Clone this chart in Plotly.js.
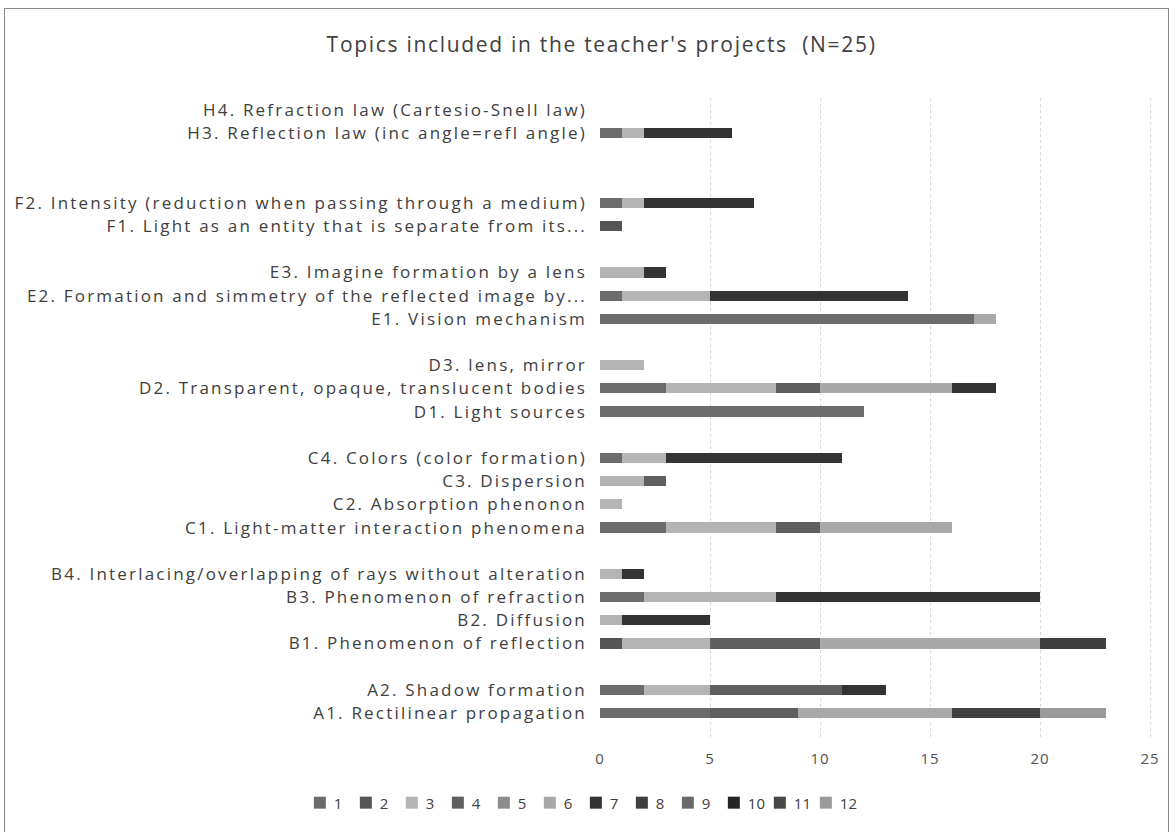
<!DOCTYPE html>
<html>
<head>
<meta charset="utf-8">
<script src="https://cdn.plot.ly/plotly-3.0.1.min.js"></script>
<style>
  html, body { margin: 0; padding: 0; background: #fff; }
  #wrap { position: relative; width: 1175px; height: 832px; overflow: hidden; }
  #frame { position: absolute; left: 4px; top: 8px; width: 1165px; height: 840px; border: 1px solid #8a8a8a; box-sizing: border-box; pointer-events: none; }
  #chart { position: absolute; left: 0; top: 0; width: 1175px; height: 832px; }
  #chart .ytick text { letter-spacing: 2.2px; }
  #chart .gtitle { letter-spacing: 1.7px; }
  #chart .xtick text { letter-spacing: 1px; }
  #chart .legend .scrollbox { clip-path: none !important; }
  #chart .legendtext { transform: translateX(-6px); }
</style>
</head>
<body>
<div id="wrap">
  <div id="chart"></div>
  <div id="frame"></div>
</div>
<script>
// Categories, bottom to top (blank rows are group separators)
const categories = [
  "A1. Rectilinear propagation",
  "A2. Shadow formation",
  "gap1",
  "B1. Phenomenon of reflection",
  "B2. Diffusion",
  "B3. Phenomenon of refraction",
  "B4. Interlacing/overlapping of rays without alteration",
  "gap2",
  "C1. Light-matter interaction phenomena",
  "C2. Absorption phenonon",
  "C3. Dispersion",
  "C4. Colors (color formation)",
  "gap3",
  "D1. Light sources",
  "D2. Transparent, opaque, translucent bodies",
  "D3. lens, mirror",
  "gap4",
  "E1. Vision mechanism",
  "E2. Formation and simmetry of the reflected image by...",
  "E3. Imagine formation by a lens",
  "gap5",
  "F1. Light as an entity that is separate from its...",
  "F2. Intensity (reduction when passing through a medium)",
  "gap6",
  "gap7",
  "H3. Reflection law (inc angle=refl angle)",
  "H4. Refraction law (Cartesio-Snell law)"
];
const tickLabels = categories.map(c => c.startsWith("gap") ? "" : c);

// Series values, aligned with categories
//          A1 A2 g  B1 B2 B3 B4 g  C1 C2 C3 C4 g  D1 D2 D3 g  E1 E2 E3 g  F1 F2 g  g  H3 H4
const s1  = [5, 2, 0, 0, 0, 2, 0, 0, 3, 0, 0, 1, 0, 12,3, 0, 0, 17,1, 0, 0, 0, 1, 0, 0, 1, 0];
const s2  = [0, 0, 0, 1, 0, 0, 0, 0, 0, 0, 0, 0, 0, 0, 0, 0, 0, 0, 0, 0, 0, 1, 0, 0, 0, 0, 0];
const s3  = [0, 3, 0, 4, 1, 6, 1, 0, 5, 1, 2, 2, 0, 0, 5, 2, 0, 0, 4, 2, 0, 0, 1, 0, 0, 1, 0];
const s4  = [4, 6, 0, 5, 0, 0, 0, 0, 2, 0, 1, 0, 0, 0, 2, 0, 0, 0, 0, 0, 0, 0, 0, 0, 0, 0, 0];
const s5  = [0, 0, 0, 0, 0, 0, 0, 0, 0, 0, 0, 0, 0, 0, 0, 0, 0, 0, 0, 0, 0, 0, 0, 0, 0, 0, 0];
const s6  = [7, 0, 0, 10,0, 0, 0, 0, 6, 0, 0, 0, 0, 0, 6, 0, 0, 1, 0, 0, 0, 0, 0, 0, 0, 0, 0];
const s7  = [0, 2, 0, 0, 4, 12,1, 0, 0, 0, 0, 8, 0, 0, 2, 0, 0, 0, 9, 1, 0, 0, 5, 0, 0, 4, 0];
const s8  = [4, 0, 0, 3, 0, 0, 0, 0, 0, 0, 0, 0, 0, 0, 0, 0, 0, 0, 0, 0, 0, 0, 0, 0, 0, 0, 0];
const s9  = [0, 0, 0, 0, 0, 0, 0, 0, 0, 0, 0, 0, 0, 0, 0, 0, 0, 0, 0, 0, 0, 0, 0, 0, 0, 0, 0];
const s10 = [0, 0, 0, 0, 0, 0, 0, 0, 0, 0, 0, 0, 0, 0, 0, 0, 0, 0, 0, 0, 0, 0, 0, 0, 0, 0, 0];
const s11 = [0, 0, 0, 0, 0, 0, 0, 0, 0, 0, 0, 0, 0, 0, 0, 0, 0, 0, 0, 0, 0, 0, 0, 0, 0, 0, 0];
const s12 = [3, 0, 0, 0, 0, 0, 0, 0, 0, 0, 0, 0, 0, 0, 0, 0, 0, 0, 0, 0, 0, 0, 0, 0, 0, 0, 0];

const seriesNames = ["1","2","3","4","5","6","7","8","9","10","11","12"];
const seriesValues = [s1,s2,s3,s4,s5,s6,s7,s8,s9,s10,s11,s12];
const seriesColors = ["#6c6c6c","#555555","#b4b4b4","#5f5f5f","#8c8c8c","#a9a9a9",
                      "#333333","#404040","#6a6a6a","#262626","#484848","#9a9a9a"];
const xTicks = [0,5,10,15,20,25];

const traces = seriesNames.map((n, i) => ({
  type: "bar",
  orientation: "h",
  name: n,
  x: seriesValues[i],
  y: categories,
  marker: { color: seriesColors[i], line: { width: 0 } },
  hoverinfo: "x+y+name"
}));

const layout = {
  width: 1175, height: 832,
  paper_bgcolor: "#ffffff", plot_bgcolor: "#ffffff",
  font: { family: "Open Sans, sans-serif", color: "#404040", size: 15 },
  title: {
    text: "Topics included in the teacher's projects  (N=25)",
    font: { size: 21, color: "#404040", family: "Open Sans, sans-serif" },
    x: 0.512, xanchor: "center", y: 0.946, yanchor: "middle"
  },
  barmode: "stack",
  bargap: 0.56,
  margin: { l: 600, r: 0, t: 98, b: 92, autoexpand: false },
  xaxis: {
    range: [0, 575 / 22], tickvals: xTicks, ticktext: xTicks.map(String),
    showgrid: true, gridcolor: "#d8d8d8", griddash: "dot", gridwidth: 1,
    zeroline: false, showline: false, ticks: "",
    tickfont: { size: 15, color: "#505050" },
    ticklabelstandoff: 8, fixedrange: true
  },
  yaxis: {
    type: "category", categoryorder: "array", categoryarray: categories,
    tickmode: "array", tickvals: categories, ticktext: tickLabels,
    range: [-1.16, 26.52],
    showgrid: false, zeroline: false, showline: false, ticks: "",
    tickfont: { size: 17, color: "#404040" },
    ticklabelstandoff: 12, automargin: false, fixedrange: true
  },
  showlegend: true,
  legend: {
    orientation: "h", x: -0.522, xanchor: "left",
    y: -0.098, yanchor: "middle",
    font: { size: 15, color: "#404040" }, traceorder: "normal",
    itemwidth: 30, itemclick: false,
    entrywidthmode: "pixels", entrywidth: 1
  }
};

Plotly.newPlot("chart", traces, layout, { displayModeBar: false, staticPlot: true });
</script>
</body>
</html>
